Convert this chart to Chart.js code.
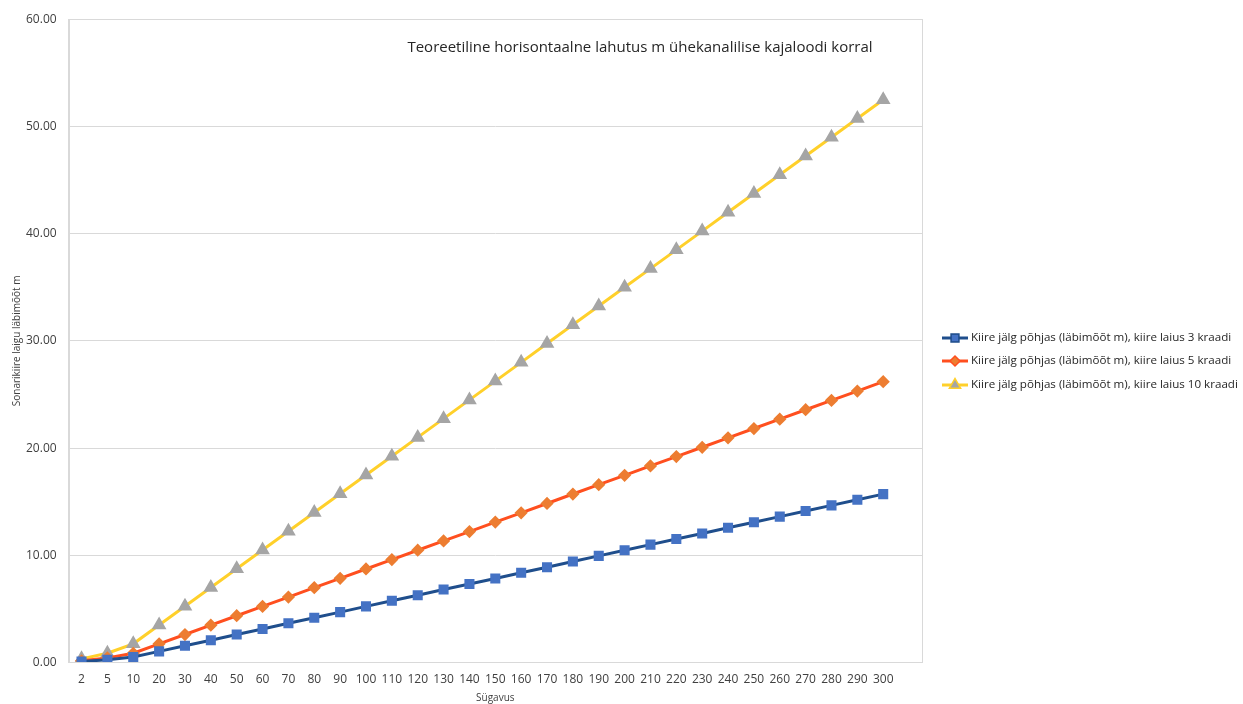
<!DOCTYPE html>
<html>
<head>
<meta charset="utf-8">
<script src="https://cdn.jsdelivr.net/npm/chart.js@4.4.0/dist/chart.umd.min.js"></script>
<style>
  html, body { margin: 0; padding: 0; background: #fff; }
  #wrap { width: 1243px; height: 704px; }
</style>
</head>
<body>
<div id="wrap"><canvas id="chart" width="1243" height="704"></canvas></div>
<script>
// andmed
const depths = ["2","5","10","20","30","40","50","60","70","80","90","100","110","120","130","140","150","160","170","180","190","200","210","220","230","240","250","260","270","280","290","300"];
const beam3 = [0.10,0.26,0.52,1.05,1.57,2.09,2.62,3.14,3.67,4.19,4.71,5.24,5.76,6.28,6.81,7.33,7.85,8.38,8.90,9.42,9.95,10.47,11.00,11.52,12.04,12.57,13.09,13.61,14.14,14.66,15.18,15.71];
const beam5 = [0.17,0.44,0.87,1.75,2.62,3.49,4.37,5.24,6.11,6.99,7.86,8.73,9.61,10.48,11.35,12.22,13.10,13.97,14.84,15.72,16.59,17.46,18.34,19.21,20.08,20.96,21.83,22.70,23.58,24.45,25.32,26.20];
const beam10 = [0.35,0.87,1.75,3.50,5.25,7.00,8.75,10.50,12.25,14.00,15.75,17.50,19.25,21.00,22.75,24.50,26.25,28.00,29.75,31.50,33.25,35.00,36.74,38.49,40.24,41.99,43.74,45.49,47.24,48.99,50.74,52.49];
const seriesNames = [
  "Kiire jälg põhjas (läbimõõt m), kiire laius 3 kraadi",
  "Kiire jälg põhjas (läbimõõt m), kiire laius 5 kraadi",
  "Kiire jälg põhjas (läbimõõt m), kiire laius 10 kraadi"
];
const chartTitle = "Teoreetiline horisontaalne lahutus m ühekanalilise kajaloodi korral";
const xTitle = "Sügavus";
const yTitle = "Sonarikiire laigu läbimõõt m";

const FONT = "'Open Sans', 'Noto Sans', sans-serif";

// raam, pealkiri ja legend
const extras = {
  id: "extras",
  afterDraw(chart) {
    const ctx = chart.ctx;
    const a = chart.chartArea;
    ctx.save();
    ctx.strokeStyle = "#d9d9d9";
    ctx.lineWidth = 1;
    ctx.strokeRect(Math.round(a.left) + 0.5, Math.round(a.top) + 0.5, Math.round(a.right - a.left), Math.round(a.bottom - a.top));

    ctx.fillStyle = "#262626";
    ctx.font = "15px " + FONT;
    ctx.textAlign = "center";
    ctx.textBaseline = "middle";
    ctx.fillText(chartTitle, 640, 48);

    // legend
    const ys = [338, 361, 385];
    ctx.font = "11.6px " + FONT;
    ctx.textAlign = "left";
    chart.data.datasets.forEach((ds, i) => {
      const y = ys[i];
      ctx.strokeStyle = ds.borderColor;
      ctx.lineWidth = 3;
      ctx.beginPath();
      ctx.moveTo(942, y);
      ctx.lineTo(968, y);
      ctx.stroke();
      Chart.helpers.drawPoint(ctx, {
        pointStyle: ds.pointStyle,
        radius: ds.pointRadius - 0.5,
        borderWidth: 1
      }, 955, y);
      ctx.fillStyle = ds.pointBackgroundColor;
      ctx.strokeStyle = ds.pointBorderColor;
      ctx.fill();
      ctx.fillStyle = "#262626";
      ctx.fillText(seriesNames[i], 971, y);
    });
    ctx.restore();
  }
};

const ctx = document.getElementById("chart").getContext("2d");
new Chart(ctx, {
  type: "line",
  data: {
    // tühi viimane kategooria nagu Exceli joonisel
    labels: [...depths, ""],
    datasets: [
      {
        label: seriesNames[0], data: beam3,
        borderColor: "#1f4e8c", borderWidth: 3,
        pointStyle: "rect", pointRadius: 5, pointHoverRadius: 5,
        pointBackgroundColor: "#4472c4", pointBorderColor: "#4472c4"
      },
      {
        label: seriesNames[1], data: beam5,
        borderColor: "#ff4f1f", borderWidth: 3,
        pointStyle: "rectRot", pointRadius: 4.5, pointHoverRadius: 4.5,
        pointBackgroundColor: "#ed7d31", pointBorderColor: "#ed7d31"
      },
      {
        label: seriesNames[2], data: beam10,
        borderColor: "#ffd02a", borderWidth: 3,
        pointStyle: "triangle", pointRadius: 5.5, pointHoverRadius: 5.5,
        pointBackgroundColor: "#a5a5a5", pointBorderColor: "#a5a5a5"
      }
    ]
  },
  options: {
    responsive: false,
    animation: false,
    layout: { padding: { left: 11, right: 321, top: 9, bottom: 0 } },
    plugins: {
      legend: { display: false },
      tooltip: { enabled: false }
    },
    scales: {
      x: {
        offset: true,
        grid: { display: false },
        border: { color: "#d9d9d9" },
        ticks: { color: "#404040", font: { family: FONT, size: 12 }, maxRotation: 0, autoSkip: false, padding: 2 },
        title: { display: true, text: xTitle, color: "#404040", font: { family: FONT, size: 10 }, padding: { top: 3, bottom: 0 } }
      },
      y: {
        min: 0, max: 60,
        grid: { color: "#d9d9d9", drawTicks: false },
        border: { color: "#d9d9d9" },
        ticks: {
          stepSize: 10, color: "#404040", padding: 12,
          font: { family: FONT, size: 12 },
          callback: v => v.toFixed(2)
        },
        title: { display: true, text: yTitle, color: "#404040", font: { family: FONT, size: 10 }, padding: { top: 0, bottom: -9 } }
      }
    }
  },
  plugins: [extras]
});
</script>
</body>
</html>
